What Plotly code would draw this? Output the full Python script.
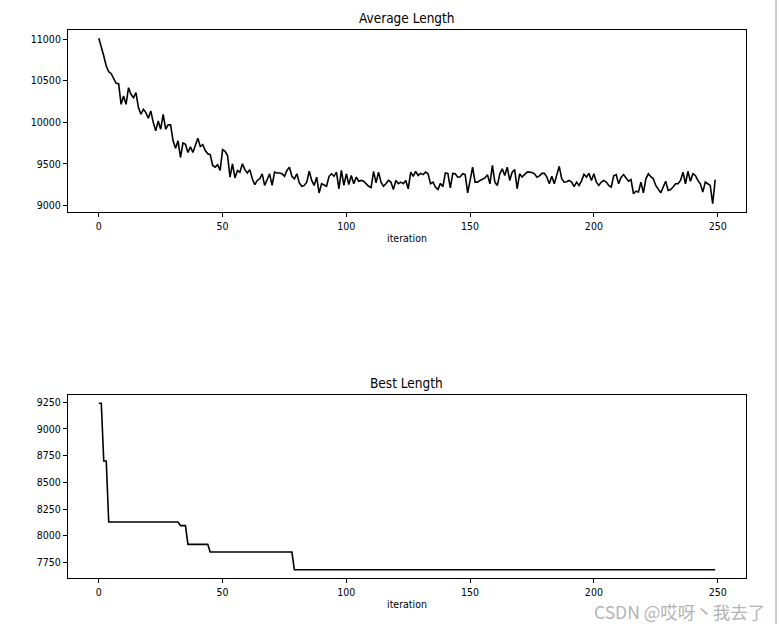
import plotly.graph_objects as go

W, H = 779, 624

iterations = list(range(250))
avg_length = [
    11010, 10916, 10796, 10676, 10608, 10584, 10524, 10468, 10464, 10216,
    10316, 10216, 10416, 10336, 10296, 10356, 10176, 10096, 10156, 10116,
    10048, 10136, 9996, 9896, 10016, 9916, 10096, 9916, 9968, 9968,
    9776, 9688, 9776, 9576, 9752, 9736, 9636, 9704, 9636, 9716,
    9808, 9710, 9730, 9660, 9620, 9610, 9480, 9460, 9490, 9420,
    9670, 9650, 9600, 9340, 9500, 9330, 9420, 9400, 9500, 9430,
    9390, 9430, 9320, 9250, 9300, 9320, 9380, 9240, 9300, 9380,
    9240, 9400, 9390, 9390, 9380, 9350, 9420, 9460, 9350, 9320,
    9380, 9270, 9230, 9240, 9280, 9410, 9300, 9240, 9340, 9150,
    9260, 9240, 9230, 9350, 9380, 9350, 9400, 9200, 9420, 9240,
    9380, 9250, 9360, 9260, 9340, 9290, 9300, 9290, 9260, 9230,
    9215, 9410, 9270, 9400, 9280, 9230, 9260, 9300, 9280, 9190,
    9300, 9260, 9280, 9260, 9300, 9200, 9400, 9350, 9410, 9360,
    9385, 9370, 9400, 9380, 9260, 9280, 9220, 9190, 9265, 9225,
    9390, 9385, 9210, 9385, 9380, 9340, 9345, 9380, 9370, 9150,
    9300, 9460, 9280, 9280, 9300, 9320, 9330, 9370, 9260, 9480,
    9280, 9240, 9380, 9440, 9360, 9460, 9300, 9400, 9430, 9200,
    9380, 9340, 9370, 9400, 9400, 9395, 9380, 9340, 9355, 9385,
    9385, 9340, 9260, 9350, 9260, 9360, 9470, 9320, 9280, 9285,
    9300, 9280, 9225, 9280, 9240, 9295, 9375, 9340, 9385, 9300,
    9380, 9280, 9240, 9280, 9300, 9280, 9240, 9220, 9355, 9370,
    9260, 9340, 9370, 9330, 9290, 9310, 9140, 9170, 9160, 9280,
    9150, 9320, 9380, 9345, 9320, 9240, 9200, 9150, 9220, 9290,
    9180, 9190, 9220, 9260, 9260, 9300, 9400, 9260, 9410, 9290,
    9380, 9360, 9300, 9260, 9160, 9280, 9260, 9240, 9020, 9310,
]

# best length: iterations at which the value changes (and the value there)
best_iter = [0, 1, 2, 3, 4, 32, 33, 35, 36, 44, 45, 78, 79, 249]
best_length = [9240, 9240, 8700, 8700, 8128, 8128, 8095, 8095, 7919, 7919,
               7847, 7847, 7682, 7682]

x_ticks = [0, 50, 100, 150, 200, 250]
avg_ticks = [9000, 9500, 10000, 10500, 11000]
best_ticks = [7750, 8000, 8250, 8500, 8750, 9000, 9250]


def pad(lo, hi, m=0.05):
    d = hi - lo
    return [lo - m * d, hi + m * d]


FONT = "DejaVu Sans Condensed, DejaVu Sans"
left, right = 68 / W, 746 / W
top_dom = [1 - 212 / H, 1 - 30 / H]
bot_dom = [1 - 578 / H, 1 - 395 / H]

fig = go.Figure()
fig.add_trace(go.Scatter(x=iterations, y=avg_length, mode="lines",
                         line=dict(color="black", width=1.6),
                         xaxis="x", yaxis="y", showlegend=False))
fig.add_trace(go.Scatter(x=best_iter, y=best_length, mode="lines",
                         line=dict(color="black", width=1.6),
                         xaxis="x2", yaxis="y2", showlegend=False))

axis_common = dict(showgrid=False, zeroline=False, showline=True,
                   linecolor="black", linewidth=1, mirror=True,
                   ticks="outside", ticklen=4, tickwidth=1, tickcolor="black",
                   tickfont=dict(family=FONT, size=10.5, color="black"))

xr = pad(min(iterations), max(iterations))
fig.update_layout(
    width=W, height=H,
    margin=dict(l=0, r=0, t=0, b=0),
    paper_bgcolor="white", plot_bgcolor="white",
    xaxis=dict(domain=[left, right], range=xr, tickvals=x_ticks,
               ticktext=[str(v) for v in x_ticks], anchor="y", **axis_common),
    yaxis=dict(domain=top_dom, range=pad(min(avg_length), max(avg_length)),
               tickvals=avg_ticks, ticktext=[str(v) for v in avg_ticks],
               anchor="x", **axis_common),
    xaxis2=dict(domain=[left, right], range=xr, tickvals=x_ticks,
                ticktext=[str(v) for v in x_ticks], anchor="y2", **axis_common),
    yaxis2=dict(domain=bot_dom, range=pad(min(best_length), max(best_length)),
                tickvals=best_ticks, ticktext=[str(v) for v in best_ticks],
                anchor="x2", **axis_common),
)

cx = (left + right) / 2
texts = [
    ("Average Length", 18, 13.5),
    ("iteration", 238, 10.5),
    ("Best Length", 383, 13.5),
    ("iteration", 604, 10.5),
]
for t, ypx, fs in texts:
    fig.add_annotation(text=t, xref="paper", yref="paper", x=cx, y=1 - ypx / H,
                       xanchor="center", yanchor="middle", showarrow=False,
                       font=dict(family=FONT, size=fs, color="black"))

fig.add_annotation(text="CSDN @哎呀丶我去了", xref="paper", yref="paper",
                   x=766 / W, y=1 - 611 / H, xanchor="right", yanchor="middle",
                   showarrow=False, borderpad=0,
                   font=dict(family="Noto Sans CJK SC", size=17.5, color="#b3b3b3"))

fig.add_shape(type="line", xref="paper", yref="paper",
              x0=776 / W, x1=776 / W, y0=0, y1=1,
              line=dict(color="#9a9a9a", width=1))

fig.write_html("out.html")
